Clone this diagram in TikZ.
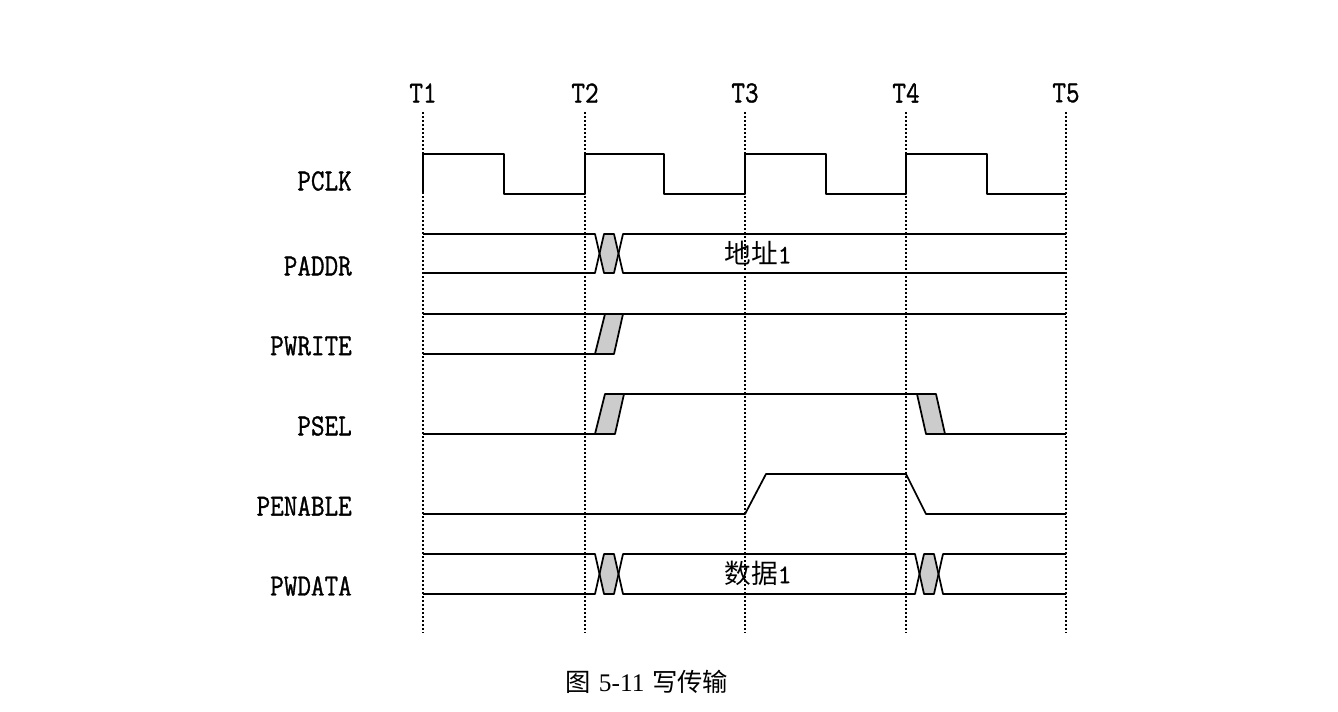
\documentclass[tikz,border=0pt]{standalone}
\usepackage{fontspec}
\newfontfamily\cjk{Noto Sans CJK SC}
\newfontfamily\capserif{Liberation Serif}
\newfontfamily\monob{Latin Modern Mono}[FakeBold=1.2]
\begin{document}
\begin{tikzpicture}[x=0.75pt,y=-0.75pt,
  sig/.style={line width=1.3pt,line join=round},
  grid/.style={line width=1.1pt,dash pattern=on 1.5pt off 1.5pt},
  busfill/.style={fill=black!20},
  lbl/.style={font=\fontsize{23}{24}\selectfont\monob,anchor=east,inner sep=0pt},
  tlbl/.style={font=\fontsize{23}{24}\selectfont\monob,inner sep=0pt},
  dat/.style={font=\fontsize{20}{22}\selectfont,inner sep=0pt}]
\useasboundingbox (0,0) rectangle (1338,711);
% time labels
\foreach \n/\x in {1/423,2/585,3/745,4/906,5/1066}{
  \node[tlbl] (t\n) at (\x,93) {\scalebox{0.86}[1]{T\n}};
  \draw[grid] (\x,112) -- (\x,633);
}
% signal names
\node[lbl] (pclk) at (352,181) {\scalebox{0.86}[1]{PCLK}};
\node[lbl] (paddr) at (352,266) {\scalebox{0.86}[1]{PADDR}};
\node[lbl] (pwrite) at (352,346) {\scalebox{0.86}[1]{PWRITE}};
\node[lbl] (psel) at (352,426) {\scalebox{0.86}[1]{PSEL}};
\begin{scope}
\clip (255,480) rectangle (400,540);
\node[lbl] (penable) at (352,506) {\scalebox{0.86}[1]{PENABLE}};
\end{scope}
\node[lbl] (pwdata) at (352,586) {\scalebox{0.86}[1]{PWDATA}};
% PCLK
\draw[sig] (423,194) -- (423,154) -- (504,154) -- (504,194) -- (585,194) -- (585,154)
  -- (664,154) -- (664,194) -- (745,194) -- (745,154) -- (826,154) -- (826,194)
  -- (906,194) -- (906,154) -- (987,154) -- (987,194) -- (1066,194);
% PADDR
\fill[busfill] (599.5,253.5) -- (604,234) -- (614,234) -- (618.5,253.5) -- (614,273) -- (604,273) -- cycle;
\draw[sig] (423,234) -- (595,234) -- (604,273) -- (614,273) -- (623,234) -- (1066,234);
\draw[sig] (423,273) -- (595,273) -- (604,234) -- (614,234) -- (623,273) -- (1066,273);
\node[dat] (addr) at (758,253) {{\cjk 地址}{\monob 1}};
% PWRITE
\draw[sig] (423,314) -- (1066,314);
\draw[sig,busfill] (595,354) -- (605,314) -- (623,314) -- (614,354) -- cycle;
\draw[sig] (423,354) -- (595,354);
% PSEL
\draw[sig,busfill] (595,434) -- (605,394) -- (624,394) -- (615,434) -- cycle;
\draw[sig] (423,434) -- (595,434);
\draw[sig] (605,394) -- (917,394);
\draw[sig,busfill] (917,394) -- (936,394) -- (945,434) -- (926,434) -- cycle;
\draw[sig] (945,434) -- (1066,434);
% PENABLE
\draw[sig] (423,514) -- (745,514) -- (766,474) -- (906,474) -- (926,514) -- (1066,514);
% PWDATA
\fill[busfill] (599.5,574) -- (604,554) -- (614,554) -- (618.5,574) -- (614,594) -- (604,594) -- cycle;
\fill[busfill] (919.5,574) -- (924,554) -- (934,554) -- (938.5,574) -- (934,594) -- (924,594) -- cycle;
\draw[sig] (423,554) -- (595,554) -- (604,594) -- (614,594) -- (623,554) -- (915,554) -- (924,594) -- (934,594) -- (943,554) -- (1066,554);
\draw[sig] (423,594) -- (595,594) -- (604,554) -- (614,554) -- (623,594) -- (915,594) -- (924,554) -- (934,554) -- (943,594) -- (1066,594);
\node[dat] (data) at (758,573) {{\cjk 数据}{\monob 1}};
% caption
\node[inner sep=0pt,font=\fontsize{19}{22}\selectfont] (cap) at (647,682) {{\cjk 图} {\capserif 5-11} {\cjk 写传输}};
\end{tikzpicture}
\end{document}
